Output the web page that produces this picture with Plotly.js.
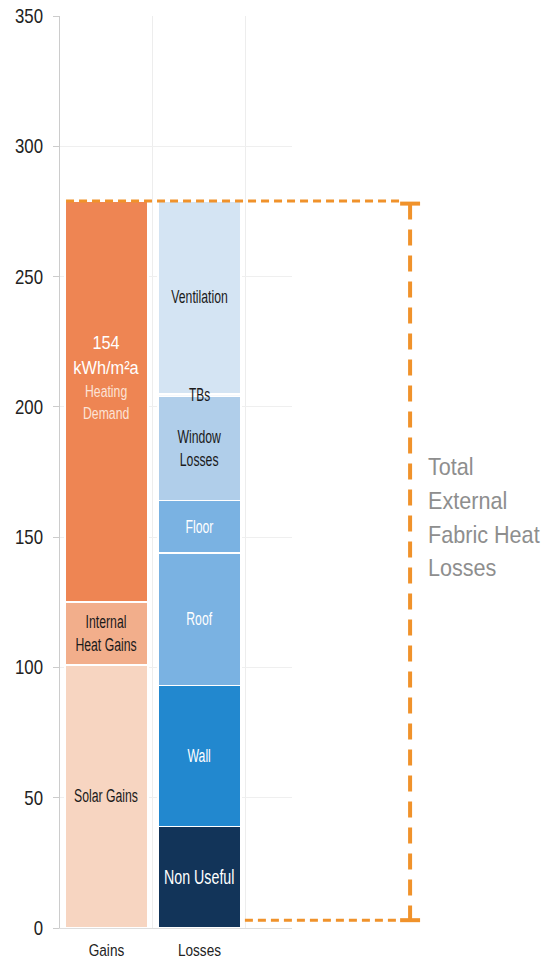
<!DOCTYPE html>
<html>
<head>
<meta charset="utf-8">
<script src="https://cdn.plot.ly/plotly-3.0.1.min.js"></script>
<style>
  html, body { margin: 0; padding: 0; background: #ffffff; }
  #chart { width: 549px; height: 962px; }
</style>
</head>
<body>
<div id="chart"></div>
<script>
// Annual energy balance (kWh/m²a): gains vs. losses, stacked bottom to top
const categories = ['Gains', 'Losses'];

const gainSegments = ['Solar Gains', 'Internal Heat Gains', 'Heating Demand'];
const gainValues = [101, 24, 154];

const lossSegments = ['Non Useful', 'Wall', 'Roof', 'Floor', 'Window Losses', 'TBs', 'Ventilation'];
const lossValues = [39, 54, 51, 20, 40, 1, 74];

const yTickValues = [0, 50, 100, 150, 200, 250, 300, 350];
const bracketLabel = ['Total', 'External', 'Fabric Heat', 'Losses'];
const heatingUnit = 'kWh/m²a';

// ---- styling ----
const SANS = '"Liberation Sans", Arial, Helvetica, sans-serif';
const ORANGE = '#F0922B';

const gainColors = ['#F7D5C1', '#F2AE8B', '#EE8553'];
const lossColors = ['#123459', '#2288CF', '#7AB2E2', '#7AB2E2', '#B0CEEA', '#F4F8FC', '#D4E4F3'];
const darkText = '#1a1a1a';
const gainTextColors = [darkText, darkText, '#ffffff'];
const lossTextColors = ['#ffffff', '#ffffff', '#ffffff', '#ffffff', darkText, darkText, darkText];
const lossTextSizes = [19.5, 18, 18, 18, 18, 17.5, 18];
const lineBreaks = { 'Internal Heat Gains': 'Internal<br>Heat Gains', 'Window Losses': 'Window<br>Losses' };

// horizontal squeeze applied to text to get a condensed face
const LABEL_SQUEEZE = 0.68;
const BAR_WIDTH = 0.89;

function stackTraces(cat, names, values, colors) {
  return names.map((name, i) => ({
    type: 'bar',
    x: [cat],
    y: [values[i]],
    name: name,
    width: BAR_WIDTH,
    marker: { color: colors[i], line: { color: '#ffffff', width: 1.6 } },
    hovertemplate: name + ': %{y}<extra></extra>'
  }));
}

const traces = [
  ...stackTraces(categories[0], gainSegments, gainValues, gainColors),
  ...stackTraces(categories[1], lossSegments, lossValues, lossColors)
];

// segment labels placed at the middle of each stacked block
function midpoints(values) {
  let base = 0;
  return values.map(v => { const m = base + v / 2; base += v; return m; });
}

const annotations = [];
const squeeze = [];   // per-annotation horizontal scale and anchor
const gainMids = midpoints(gainValues);
const lossMids = midpoints(lossValues);

function addLabel(ann, scale, anchor) {
  annotations.push(ann);
  squeeze.push({ scale: scale, anchor: anchor || 'middle' });
}

gainSegments.forEach((name, i) => {
  if (name === 'Heating Demand') return;
  addLabel({
    x: categories[0], y: gainMids[i], xref: 'x', yref: 'y', showarrow: false,
    text: lineBreaks[name] || name,
    font: { family: SANS, size: 18, color: gainTextColors[i] }
  }, LABEL_SQUEEZE);
});

// Heating demand block: value with unit, then caption
const hdIdx = gainSegments.indexOf('Heating Demand');
addLabel({
  x: categories[0], y: gainMids[hdIdx], xref: 'x', yref: 'y', showarrow: false,
  yshift: 47, text: gainValues[hdIdx] + '<br>' + heatingUnit,
  font: { family: SANS, size: 19, color: '#ffffff' }
}, 0.86);
addLabel({
  x: categories[0], y: gainMids[hdIdx], xref: 'x', yref: 'y', showarrow: false,
  yshift: -1, text: 'Heating<br>Demand',
  font: { family: SANS, size: 17, color: '#FCE3D6' }
}, 0.72);

lossSegments.forEach((name, i) => {
  addLabel({
    x: categories[1], y: lossMids[i], xref: 'x', yref: 'y', showarrow: false,
    text: lineBreaks[name] || name,
    font: { family: SANS, size: lossTextSizes[i], color: lossTextColors[i] }
  }, name === 'Non Useful' ? 0.73 : LABEL_SQUEEZE);
});

// bracket caption to the right of the plot
bracketLabel.forEach((line, i) => addLabel({
  x: 1.576, xref: 'paper', xanchor: 'left',
  y: 177 - i * 12.9, yref: 'y', yanchor: 'middle',
  showarrow: false, text: line,
  font: { family: SANS, size: 24, color: '#8E8E8E' }
}, 0.9, 'start'));

// bracket spanning the total losses
const totalLosses = lossValues.reduce((a, b) => a + b, 0);
const bracketBase = 3;
const capY = totalLosses - 1;
const shapes = [
  { type: 'line', xref: 'paper', yref: 'y', x0: 0.026, x1: 1.466, y0: totalLosses, y1: totalLosses,
    line: { color: ORANGE, width: 3, dash: '8px,5px' } },
  { type: 'line', xref: 'paper', yref: 'y', x0: 0.797, x1: 1.466, y0: bracketBase, y1: bracketBase,
    line: { color: ORANGE, width: 3, dash: '8px,5px' } },
  { type: 'line', xref: 'paper', yref: 'y', x0: 1.509, x1: 1.509, y0: capY, y1: bracketBase,
    line: { color: ORANGE, width: 4, dash: '16px,10px' } },
  { type: 'line', xref: 'paper', yref: 'y', x0: 1.466, x1: 1.552, y0: capY, y1: capY,
    line: { color: ORANGE, width: 4 } },
  { type: 'line', xref: 'paper', yref: 'y', x0: 1.466, x1: 1.552, y0: bracketBase, y1: bracketBase,
    line: { color: ORANGE, width: 4 } }
];

const layout = {
  width: 549,
  height: 962,
  margin: { l: 60, r: 257, t: 16, b: 34 },
  paper_bgcolor: '#ffffff',
  plot_bgcolor: '#ffffff',
  barmode: 'stack',
  showlegend: false,
  xaxis: {
    type: 'category',
    categoryorder: 'array',
    categoryarray: categories,
    range: [-0.5, 1.995],
    tickson: 'boundaries',
    showgrid: true,
    gridcolor: '#ededed',
    ticks: '',
    showline: true,
    linecolor: '#dddddd',
    ticklabelstandoff: 7,
    tickfont: { family: SANS, size: 17, color: '#222222' },
    fixedrange: true
  },
  yaxis: {
    range: [0, 350],
    tickvals: yTickValues,
    showgrid: true,
    gridcolor: '#efefef',
    zeroline: false,
    showline: true,
    linecolor: '#cccccc',
    ticks: 'outside',
    ticklen: 6,
    tickcolor: '#cccccc',
    ticklabelstandoff: 6,
    tickfont: { family: SANS, size: 20, color: '#222222' },
    fixedrange: true
  },
  shapes: shapes,
  annotations: annotations
};

// squeeze an SVG text element horizontally about a chosen edge or its centre
function squeezeText(el, scale, anchor) {
  const bb = el.getBBox();
  const cx = anchor === 'start' ? bb.x : anchor === 'end' ? bb.x + bb.width : bb.x + bb.width / 2;
  const prev = el.getAttribute('transform') || '';
  el.setAttribute('transform',
    prev + ' translate(' + cx + ',0) scale(' + scale + ',1) translate(' + (-cx) + ',0)');
}

Plotly.newPlot('chart', traces, layout, { displayModeBar: false, staticPlot: true }).then(gd => {
  gd.querySelectorAll('g.annotation').forEach(g => {
    const idx = +g.getAttribute('data-index');
    const t = g.querySelector('text.annotation-text');
    if (t && squeeze[idx]) squeezeText(t, squeeze[idx].scale, squeeze[idx].anchor);
  });
  gd.querySelectorAll('g.ytick text').forEach(t => squeezeText(t, 0.84, 'end'));
  gd.querySelectorAll('g.xtick text').forEach(t => squeezeText(t, 0.8, 'middle'));
});
</script>
</body>
</html>
